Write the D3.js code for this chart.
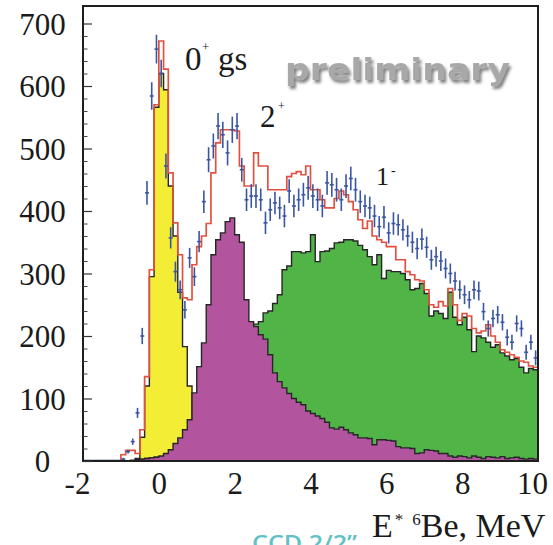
<!DOCTYPE html>
<html>
<head>
<meta charset="utf-8">
<script src="https://cdn.jsdelivr.net/npm/d3@7"></script>
<style>
  html, body { margin: 0; padding: 0; background: #ffffff; }
  svg { display: block; }
</style>
</head>
<body>
<svg id="chart" width="553" height="545"></svg>
<script>
// Histogram binning: 96 bins of 0.125 MeV from -2 to 10 MeV
const binStart = -2;
const binWidth = 0.125;

// Measured counts per bin (blue points) and their errors
const dataCounts = [
  0,0,0,0,0,0,0,0,
  3,15,31,77,200,429,584,659,620,472,
  357,303,274,242,325,295,351,415,482,504,
  536,522,493,530,536,466,418,424,424,418,
  381,402,413,405,392,432,408,418,426,437,
  424,418,408,445,442,434,418,440,452,434,
  415,408,405,392,375,390,365,380,378,370,
  360,350,340,355,342,322,327,320,308,300,
  288,274,266,258,274,272,239,212,228,234,
  222,198,190,220,212,174,190,165
];
const dataErrors = [
  0,0,0,0,0,0,0,0,
  2,3,5,8,13,19,22,23,22,20,
  17,16,15,14,16,15,17,18,20,20,
  21,21,20,21,21,19,18,19,19,18,
  18,18,18,18,18,19,18,18,19,19,
  19,18,18,19,19,19,18,19,19,19,
  18,18,18,18,17,18,17,18,17,17,
  17,17,17,17,17,16,16,16,16,16,
  15,15,15,14,15,15,14,13,14,14,
  13,13,12,13,13,12,12,12
];

// Total simulated spectrum (red outline)
const fitTotal = [
  0,0,0,0,0,0,0,0,
  10,17,17,12,50,135,306,570,672,627,
  461,381,330,261,258,314,343,360,380,461,
  509,530,530,530,528,472,440,440,493,472,
  472,434,434,434,434,455,460,463,458,472,
  434,434,418,405,405,420,432,426,415,402,
  386,372,384,360,354,350,343,343,322,322,
  303,298,290,288,274,250,246,255,248,276,
  250,225,236,232,212,205,208,218,200,190,
  178,174,170,166,160,158,152,150
];

// 0+ ground state contribution (yellow)
const state0gs = [
  0,0,0,0,0,0,0,0,
  0,0,1,4,38,120,295,566,620,594,
  440,360,270,183,120,60,40,30,22,16,
  12,9,7,5,4,3,2,2,1,1,
  0,0,0,0,0,0,0,0,0,0,
  0,0,0,0,0,0,0,0,0,0,
  0,0,0,0,0,0,0,0,0,0,
  0,0,0,0,0,0,0,0,0,0,
  0,0,0,0,0,0,0,0,0,0,
  0,0,0,0,0,0,0,0
];

// 2+ state contribution (magenta)
const state2plus = [
  0,0,0,0,0,0,0,0,
  0,0,0,1,3,4,5,6,8,12,
  18,28,37,50,66,109,151,189,250,330,
  354,365,383,389,362,350,258,223,215,202,
  195,170,141,127,117,108,100,94,90,80,
  76,72,68,62,53,51,54,50,45,42,
  37,37,36,26,34,34,33,32,23,21,
  21,20,12,13,18,17,16,12,12,8,
  6,8,7,5,8,6,4,7,6,5,
  7,4,5,6,4,3,4,3
];

// 1- continuum contribution (green)
const state1minus = [
  0,0,0,0,0,0,0,0,
  0,0,1,2,3,4,5,6,7,9,
  11,14,17,21,26,32,40,48,58,70,
  82,95,110,125,140,158,178,198,219,223,
  237,240,252,266,306,312,335,335,333,335,
  362,319,335,336,340,349,350,354,354,352,
  345,338,327,314,330,292,305,303,303,300,
  290,274,276,284,268,232,240,236,228,270,
  230,218,230,210,175,200,197,190,182,186,
  173,168,162,164,150,141,148,146
];

const xTicks = [-2, 0, 2, 4, 6, 8, 10];
const yTicks = [0, 100, 200, 300, 400, 500, 600, 700];
const yMinorTicks = d3.range(0, 720, 20).filter(v => v % 100 !== 0);

const svg = d3.select('#chart');
const x = d3.scaleLinear().domain([-2, 10]).range([83, 538]);
const y = d3.scaleLinear().domain([0, 728]).range([461, 6]);

const edge = i => binStart + i * binWidth;

// Step outline of a histogram, starting and ending on the baseline
function histPath(vals) {
  const pts = [[x(edge(0)), y(0)]];
  vals.forEach((v, i) => {
    pts.push([x(edge(i)), y(v)], [x(edge(i + 1)), y(v)]);
  });
  pts.push([x(edge(vals.length)), y(0)]);
  return d3.line()(pts);
}

const outline = '#262626';
const layers = [
  { vals: state0gs,    fill: '#f3ed36' },
  { vals: state1minus, fill: '#50b447' },
  { vals: state2plus,  fill: '#b3559e' }
];

const gHist = svg.append('g');
layers.forEach(l => {
  gHist.append('path')
    .attr('d', histPath(l.vals) + 'Z')
    .attr('fill', l.fill)
    .attr('stroke', outline)
    .attr('stroke-width', 1.4)
    .attr('stroke-linejoin', 'miter');
});

// total spectrum outline
svg.append('path')
  .attr('d', histPath(fitTotal))
  .attr('fill', 'none')
  .attr('stroke', '#e2513f')
  .attr('stroke-width', 1.7);

// data points with error bars
const gPts = svg.append('g').attr('stroke', '#3a56a2').attr('stroke-width', 1.6);
dataCounts.forEach((v, i) => {
  const c = edge(i) + binWidth / 2;
  const cx = x(c);
  if (v === 0) {
    gPts.append('line')
      .attr('x1', x(edge(i))).attr('x2', x(edge(i + 1)))
      .attr('y1', y(0) - 0.5).attr('y2', y(0) - 0.5);
    return;
  }
  const e = dataErrors[i];
  gPts.append('line')
    .attr('x1', cx).attr('x2', cx)
    .attr('y1', y(v - e)).attr('y2', y(v + e));
  gPts.append('line')
    .attr('x1', cx - 2).attr('x2', cx + 2)
    .attr('y1', y(v)).attr('y2', y(v));
});

// frame
svg.append('rect')
  .attr('x', 83).attr('y', 6)
  .attr('width', 538 - 83).attr('height', 461 - 6)
  .attr('fill', 'none')
  .attr('stroke', '#1e1e1e')
  .attr('stroke-width', 2);

const serif = '"Liberation Serif", "Times New Roman", serif';

// y axis: ticks inside the frame, labels centred to the left
const gY = svg.append('g').attr('transform', 'translate(83,0)')
  .call(d3.axisLeft(y).tickValues(yTicks).tickSize(-9))
  .attr('font-family', serif).attr('font-size', 31);
gY.select('.domain').remove();
gY.selectAll('.tick line').attr('stroke', '#333').attr('stroke-width', 1.2);
gY.selectAll('.tick text')
  .attr('x', 42.5 - 83)
  .attr('dy', '0.34em')
  .attr('text-anchor', 'middle')
  .attr('fill', '#1a1a1a')
  .style('font-family', serif)
  .style('font-size', '31px');

const gYm = svg.append('g').attr('transform', 'translate(83,0)')
  .call(d3.axisLeft(y).tickValues(yMinorTicks).tickSize(-4.5).tickFormat(''));
gYm.select('.domain').remove();
gYm.selectAll('.tick line').attr('stroke', '#444').attr('stroke-width', 1);

// x axis labels (plain hyphen for the negative value)
const gX = svg.append('g').attr('transform', 'translate(0,461)')
  .call(d3.axisBottom(x).tickValues(xTicks).tickSize(0).tickFormat(d => String(d)))
  .attr('font-family', serif).attr('font-size', 31);
gX.select('.domain').remove();
gX.selectAll('.tick text')
  .attr('y', 33)
  .attr('dy', 0)
  .attr('dx', d => (d === -2 || d === 10) ? -6 : 0)
  .attr('fill', '#1a1a1a')
  .style('font-family', serif)
  .style('font-size', '31px');

// axis title: E* 6Be, MeV
const title = svg.append('text')
  .attr('x', 372).attr('y', 537)
  .attr('fill', '#1a1a1a')
  .style('font-family', serif)
  .style('font-size', '34px');
title.append('tspan').text('E');
title.append('tspan').attr('dy', -12).attr('dx', 2).style('font-size', '17px').text('*');
title.append('tspan').attr('dx', 9).style('font-size', '17px').text('6');
title.append('tspan').attr('dy', 12).text('Be, MeV');

// state labels
const lab = svg.append('g').attr('fill', '#1a1a1a').style('font-family', serif);
lab.append('text').attr('x', 185).attr('y', 70).style('font-size', '33px').text('0');
lab.append('text').attr('x', 202).attr('y', 51).style('font-size', '13px').text('+');
lab.append('text').attr('x', 218).attr('y', 70).style('font-size', '33px').text('gs');
lab.append('text').attr('x', 260).attr('y', 127).style('font-size', '31px').text('2');
lab.append('text').attr('x', 278).attr('y', 110).style('font-size', '12px').text('+');
lab.append('text').attr('x', 376).attr('y', 185).style('font-size', '26px').text('1');
lab.append('text').attr('x', 391).attr('y', 175).style('font-size', '14px').text('-');

// "preliminary" stamp with soft shadow
const defs = svg.append('defs');
const f = defs.append('filter').attr('id', 'shadow')
  .attr('x', '-10%').attr('y', '-30%').attr('width', '120%').attr('height', '160%');
f.append('feGaussianBlur').attr('in', 'SourceAlpha').attr('stdDeviation', 1.4).attr('result', 'b');
f.append('feOffset').attr('in', 'b').attr('dx', 2).attr('dy', 2.5).attr('result', 'o');
f.append('feFlood').attr('flood-color', '#555').attr('flood-opacity', 0.75).attr('result', 'c');
f.append('feComposite').attr('in', 'c').attr('in2', 'o').attr('operator', 'in').attr('result', 's');
const m = f.append('feMerge');
m.append('feMergeNode').attr('in', 's');
m.append('feMergeNode').attr('in', 'SourceGraphic');

svg.append('text')
  .attr('x', 285).attr('y', 80)
  .attr('textLength', 225).attr('lengthAdjust', 'spacingAndGlyphs')
  .attr('fill', '#a8a8a8')
  .attr('filter', 'url(#shadow)')
  .style('font-family', '"DejaVu Sans", sans-serif')
  .style('font-weight', 'bold')
  .style('font-size', '30px')
  .text('preliminary');

// slide footer, cut by the page edge
svg.append('text')
  .attr('x', 252).attr('y', 551)
  .attr('textLength', 105).attr('lengthAdjust', 'spacingAndGlyphs')
  .attr('fill', '#62c1c8')
  .style('font-family', '"Open Sans", sans-serif')
  .style('font-weight', 600)
  .style('font-size', '22px')
  .text('CCD 2/2\u201D');
</script>
</body>
</html>
